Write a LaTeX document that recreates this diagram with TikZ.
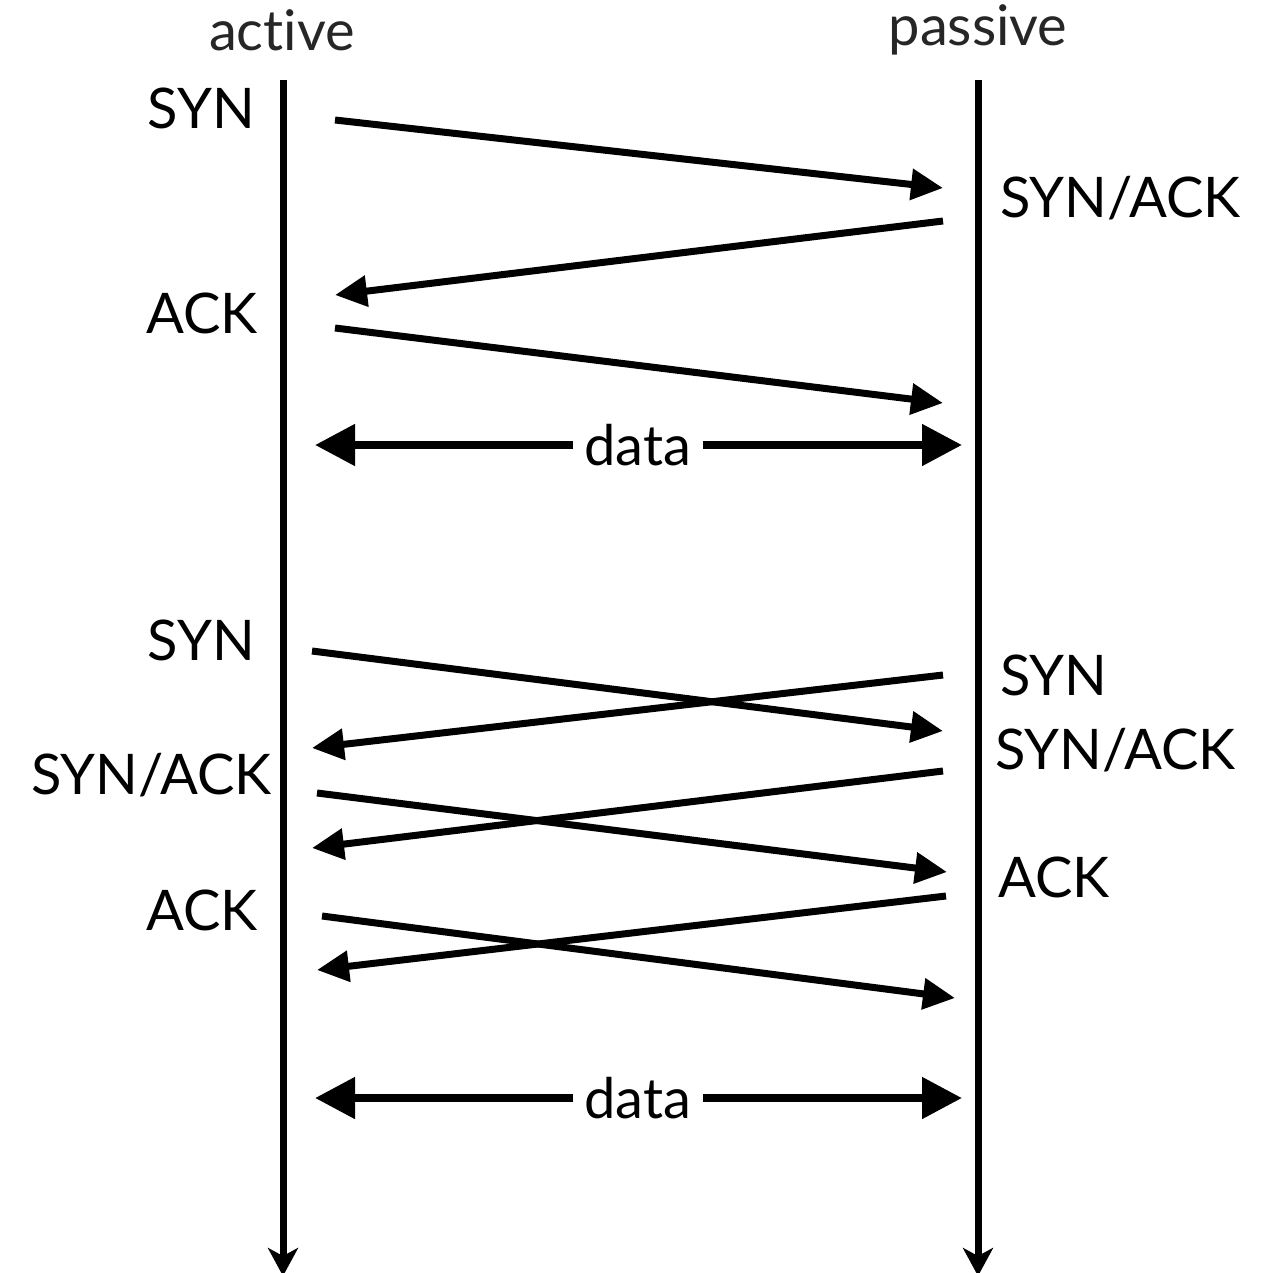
\documentclass[tikz,border=0pt]{standalone}
\usepackage{fontspec}
\setmainfont[Ligatures=NoCommon]{Lato}
\usetikzlibrary{arrows.meta}
\definecolor{headgray}{HTML}{262626}
\tikzset{
  lbl/.style={font=\fontsize{56}{64}\selectfont, inner sep=0pt},
  head/.style={lbl, text=headgray},
  timeline/.style={line width=7pt, -{Stealth[length=28pt,width=30pt,inset=8pt]}},
  msg/.style={line width=7pt, -{Triangle[length=32pt,width=30pt]}},
  datatip/.style={line width=8pt, -{Triangle[length=40pt,width=40pt]}},
}
\begin{document}
\begin{tikzpicture}[x=1pt,y=-1pt]
\useasboundingbox (0,0) rectangle (1282,1272);

% headers
\node[head] (hA) at (282,30) {active};
\node[head] (hP) at (978,30) {passive};

% timelines
\coordinate (aTop) at (283,80);
\coordinate (aBot) at (283,1276);
\coordinate (pTop) at (978,80);
\coordinate (pBot) at (978,1276);
\draw[timeline] (aTop) -- (aBot);
\draw[timeline] (pTop) -- (pBot);

% ---- simple handshake ----
\node[lbl, anchor=east] (l1) at (255,108) {SYN};
\node[lbl, anchor=west] (l2) at (1000,198) {SYN/ACK};
\node[lbl, anchor=east] (l3) at (258,313) {ACK};

\coordinate (m1s) at (335,120);  \coordinate (m1e) at (943,188);
\coordinate (m2s) at (943,221);  \coordinate (m2e) at (335,295);
\coordinate (m3s) at (335,328);  \coordinate (m3e) at (943,403);
\draw[msg] (m1s) -- (m1e);
\draw[msg] (m2s) -- (m2e);
\draw[msg] (m3s) -- (m3e);

\node[lbl] (d1) at (638,445) {data};
\coordinate (d1l) at (315,445);
\coordinate (d1r) at (962,445);
\draw[datatip] ([xshift=-11pt]d1.west) -- (d1l);
\draw[datatip] ([xshift=11pt]d1.east) -- (d1r);

% ---- simultaneous open ----
\node[lbl, anchor=east] (s1) at (255,640) {SYN};
\node[lbl, anchor=west] (s2) at (1000,675) {SYN};
\node[lbl, anchor=west] (s3) at (995,750) {SYN/ACK};
\node[lbl, anchor=east] (s4) at (272,775) {SYN/ACK};
\node[lbl, anchor=west] (s5) at (998,877) {ACK};
\node[lbl, anchor=east] (s6) at (258,910) {ACK};

\coordinate (n1s) at (312,651);  \coordinate (n1e) at (943,731);
\coordinate (n2s) at (943,675);  \coordinate (n2e) at (312,748);
\coordinate (n3s) at (317,793);  \coordinate (n3e) at (947,872);
\coordinate (n4s) at (943,771);  \coordinate (n4e) at (312,848);
\coordinate (n5s) at (322,916);  \coordinate (n5e) at (955,998);
\coordinate (n6s) at (946,896);  \coordinate (n6e) at (317,970);
\draw[msg] (n1s) -- (n1e);
\draw[msg] (n2s) -- (n2e);
\draw[msg] (n3s) -- (n3e);
\draw[msg] (n4s) -- (n4e);
\draw[msg] (n5s) -- (n5e);
\draw[msg] (n6s) -- (n6e);

\node[lbl] (d2) at (638,1098) {data};
\coordinate (d2l) at (315,1098);
\coordinate (d2r) at (962,1098);
\draw[datatip] ([xshift=-11pt]d2.west) -- (d2l);
\draw[datatip] ([xshift=11pt]d2.east) -- (d2r);
\end{tikzpicture}
\end{document}
